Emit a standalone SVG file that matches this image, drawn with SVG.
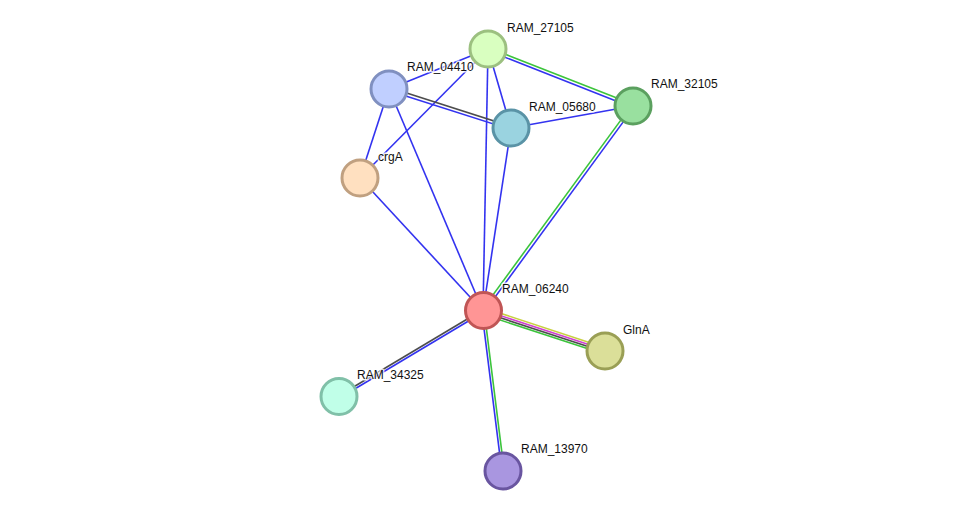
<svg xmlns="http://www.w3.org/2000/svg" width="976" height="516" viewBox="0 0 976 516">
<style>
.e{stroke-width:1.6;fill:none}
.b{stroke:#3333f0}
.g{stroke:#3cc43c}
.k{stroke:#4d4d4d}
.y{stroke:#c8d040}
.m{stroke:#d040d0}
.n circle{stroke-width:3}
.n text{font-family:"Liberation Sans",Arial,sans-serif;font-size:12px;fill:#111;stroke:#fff;stroke-width:3;stroke-opacity:0.8;paint-order:stroke;stroke-linejoin:round}
</style>
<rect width="976" height="516" fill="#fff"/>
<g id="edges">
<line class="e b" x1="488" y1="49" x2="389" y2="89"/>
<line class="e b" x1="488" y1="49" x2="511" y2="128"/>
<line class="e g" x1="488.5" y1="47.6" x2="633.5" y2="104.6"/>
<line class="e b" x1="487.5" y1="50.4" x2="632.5" y2="107.4"/>
<line class="e b" x1="488" y1="49" x2="360" y2="178"/>
<line class="e b" x1="488" y1="49" x2="483" y2="311"/>
<line class="e k" x1="389.5" y1="87.6" x2="511.5" y2="126.6"/>
<line class="e b" x1="388.5" y1="90.4" x2="510.5" y2="129.4"/>
<line class="e b" x1="389" y1="89" x2="360" y2="178"/>
<line class="e b" x1="389" y1="89" x2="483" y2="311"/>
<line class="e b" x1="511" y1="128" x2="633" y2="106"/>
<line class="e b" x1="511" y1="128" x2="483" y2="311"/>
<line class="e g" x1="631.8" y1="105.1" x2="481.8" y2="310.1"/>
<line class="e b" x1="634.2" y1="106.9" x2="484.2" y2="311.9"/>
<line class="e b" x1="360" y1="178" x2="483" y2="311"/>
<line class="e y" x1="484" y1="307.9" x2="606" y2="347.9"/>
<line class="e m" x1="483.3" y1="310" x2="605.3" y2="350"/>
<line class="e k" x1="482.7" y1="312" x2="604.7" y2="352"/>
<line class="e g" x1="482" y1="314.1" x2="604" y2="354.1"/>
<line class="e k" x1="482.4" y1="310" x2="338.4" y2="396"/>
<line class="e b" x1="483.6" y1="312" x2="339.6" y2="398"/>
<line class="e b" x1="481.8" y1="311.1" x2="501.8" y2="471.1"/>
<line class="e g" x1="484.2" y1="310.9" x2="504.2" y2="470.9"/>
</g>
<g id="RAM_27105" class="n"><circle cx="488" cy="49" r="18" fill="#d9ffc0" stroke="#9cc080"/><text x="507" y="32">RAM_27105</text></g>
<g id="RAM_04410" class="n"><circle cx="389" cy="89" r="18" fill="#c0cfff" stroke="#8090c0"/><text x="407" y="71">RAM_04410</text></g>
<g id="RAM_05680" class="n"><circle cx="511" cy="128" r="18" fill="#9ad3e0" stroke="#5a93a6"/><text x="529" y="111">RAM_05680</text></g>
<g id="RAM_32105" class="n"><circle cx="633" cy="106" r="18" fill="#99e09f" stroke="#5ba05f"/><text x="651" y="88">RAM_32105</text></g>
<g id="crgA" class="n"><circle cx="360" cy="178" r="18" fill="#ffe0c0" stroke="#c0a080"/><text x="378" y="161">crgA</text></g>
<g id="RAM_06240" class="n"><circle cx="483.5" cy="310.5" r="18" fill="#ff9595" stroke="#c05555"/><text x="502" y="293">RAM_06240</text></g>
<g id="GlnA" class="n"><circle cx="605" cy="351" r="18" fill="#dbdf99" stroke="#9a9f55"/><text x="623" y="334">GlnA</text></g>
<g id="RAM_34325" class="n"><circle cx="339" cy="396.5" r="18" fill="#c0ffe8" stroke="#80c0a8"/><text x="357" y="379">RAM_34325</text></g>
<g id="RAM_13970" class="n"><circle cx="503" cy="471" r="18" fill="#a996e0" stroke="#6955a0"/><text x="521" y="453">RAM_13970</text></g>
</svg>
